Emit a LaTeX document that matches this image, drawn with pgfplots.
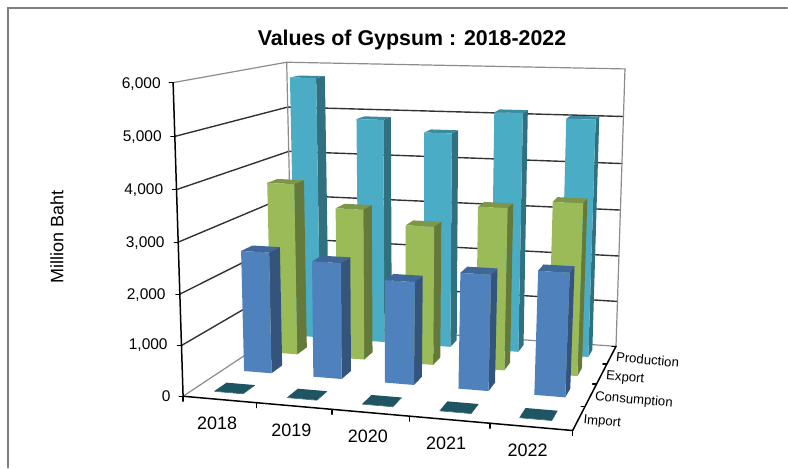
\documentclass[border=0pt]{standalone}
\usepackage{fontspec}
\setmainfont{Liberation Sans}
\usepackage{pgfplots}
\pgfplotsset{compat=1.18}
\definecolor{cyanF}{HTML}{4BACC6}
\definecolor{cyanS}{HTML}{31707F}
\definecolor{cyanT}{HTML}{3A8BA0}
\definecolor{greenF}{HTML}{9BBB59}
\definecolor{greenS}{HTML}{657A3A}
\definecolor{greenT}{HTML}{7D9647}
\definecolor{blueF}{HTML}{4F81BD}
\definecolor{blueS}{HTML}{34547B}
\definecolor{blueT}{HTML}{3F6797}
\definecolor{tealF}{HTML}{1F5562}
\definecolor{tealS}{HTML}{1A4753}
\definecolor{tealT}{HTML}{1F5562}
\definecolor{wallgray}{HTML}{8C8C8C}
\definecolor{framegray}{HTML}{7F7F7F}
\definecolor{gridc}{HTML}{333333}

% perspective: box corners in pixels, x = 0..5 (years), d = 0..4 (series), z = 0..6000
\newcommand{\proj}[3]{%
  \pgfmathsetmacro{\tu}{(#1)/5}\pgfmathsetmacro{\tu}{\tu-0.075*\tu*(1-\tu)}%
  \pgfmathsetmacro{\tv}{(#2)/4}\pgfmathsetmacro{\tv}{\tv+0.208*\tv*(1-\tv)}%
  \pgfmathsetmacro{\tw}{(#3)/6000}\pgfmathsetmacro{\tw}{\tw-0.035*\tw*(1-\tw)}%
  \pgfmathsetmacro{\bx}{(1-\tv)*((1-\tu)*183.3+\tu*573.3)+\tv*((1-\tu)*293+\tu*616.7)}%
  \pgfmathsetmacro{\by}{(1-\tv)*((1-\tu)*396.7+\tu*431)+\tv*((1-\tu)*324+\tu*346.7)}%
  \pgfmathsetmacro{\tx}{(1-\tv)*((1-\tu)*173.3+\tu*588)+\tv*((1-\tu)*287+\tu*625.7)}%
  \pgfmathsetmacro{\ty}{(1-\tv)*((1-\tu)*82.7+\tu*98)+\tv*((1-\tu)*62.3+\tu*69)}%
  \pgfmathsetmacro{\px}{(1-\tw)*\bx+\tw*\tx}%
  \pgfmathsetmacro{\py}{(1-\tw)*\by+\tw*\ty}%
  \xdef\pp{(\px,\py)}%
}
% filled quad from four (x,d,z) points
\newcommand{\quadf}[5]{%
  \proj#2\let\pa\pp \proj#3\let\pb\pp \proj#4\let\pc\pp \proj#5\let\pd\pp
  \edef\tmp{\noexpand\addplot[fill=#1,draw=none,forget plot] coordinates {\pa\pb\pc\pd} -- cycle;}\tmp
}
\newcommand{\seg}[3]{%
  \proj#2\let\pa\pp \proj#3\let\pb\pp
  \edef\tmp{\noexpand\addplot[#1,forget plot] coordinates {\pa\pb};}\tmp
}
% bar: year index, series index, value, colours
\newcommand{\barc}[4]{%
  \pgfmathsetmacro{\xa}{#1+0.3}\pgfmathsetmacro{\xb}{#1+0.7}%
  \pgfmathsetmacro{\da}{#2+0.3}\pgfmathsetmacro{\db}{#2+0.7}%
  \quadf{#4T}{{\xa}{\da}{#3}}{{\xb}{\da}{#3}}{{\xb}{\db}{#3}}{{\xa}{\db}{#3}}%
  \quadf{#4S}{{\xb}{\da}{0}}{{\xb}{\db}{0}}{{\xb}{\db}{#3}}{{\xb}{\da}{#3}}%
  \quadf{#4F}{{\xa}{\da}{0}}{{\xb}{\da}{0}}{{\xb}{\da}{#3}}{{\xa}{\da}{#3}}%
}
\begin{document}
\begin{tikzpicture}
\begin{axis}[
  width=788pt, height=468pt, scale only axis,
  xmin=0, xmax=788, ymin=0, ymax=468, y dir=reverse,
  axis lines=none, clip=false,
  line cap=round,
]
\path (axis cs:0,0) rectangle (axis cs:788,468);
% chart frame
\addplot[color=framegray,line width=1.8pt,forget plot] coordinates {(8,468)(8,8)(788,8)};

% walls
\foreach \z in {1000,2000,3000,4000,5000} {
  \seg{gridc,line width=1.4pt}{{0}{0}{\z}}{{0}{4}{\z}}
  \seg{gridc,line width=1.4pt}{{0}{4}{\z}}{{5}{4}{\z}}
}
\seg{wallgray,line width=1.2pt}{{0}{0}{6000}}{{0}{4}{6000}}
\seg{wallgray,line width=1.2pt}{{0}{4}{6000}}{{5}{4}{6000}}
\seg{wallgray,line width=1.2pt}{{0}{4}{0}}{{0}{4}{6000}}
\seg{wallgray,line width=1.2pt}{{5}{4}{0}}{{5}{4}{6000}}
\seg{wallgray,line width=1.2pt}{{0}{0}{0}}{{0}{4}{0}}
\seg{wallgray,line width=1.2pt}{{0}{4}{0}}{{5}{4}{0}}

% Production
\barc{0}{3}{5745}{cyan}
\barc{1}{3}{4890}{cyan}
\barc{2}{3}{4650}{cyan}
\barc{3}{3}{5125}{cyan}
\barc{4}{3}{5035}{cyan}
% Export
\barc{0}{2}{3655}{green}
\barc{1}{2}{3190}{green}
\barc{2}{2}{2910}{green}
\barc{3}{2}{3370}{green}
\barc{4}{2}{3540}{green}
% Consumption
\barc{0}{1}{2490}{blue}
\barc{1}{1}{2365}{blue}
\barc{2}{1}{2080}{blue}
\barc{3}{1}{2320}{blue}
\barc{4}{1}{2455}{blue}
% Import
\barc{0}{0}{10}{teal}
\barc{1}{0}{10}{teal}
\barc{2}{0}{10}{teal}
\barc{3}{0}{10}{teal}
\barc{4}{0}{10}{teal}

% axes and ticks
\seg{black,line width=1.5pt}{{0}{0}{0}}{{0}{0}{6000}}
\seg{black,line width=1.5pt}{{0}{0}{0}}{{5}{0}{0}}
\seg{black,line width=1.5pt}{{5}{0}{0}}{{5}{4}{0}}
\foreach \z/\lab/\lx/\ly in {0/0/171/397,1000/{1,000}/168/345,2000/{2,000}/166/295,3000/{3,000}/165/243,4000/{4,000}/163.5/190,5000/{5,000}/162/137,6000/{6,000}/161/84} {
  \proj{0}{0}{\z}
  \pgfmathsetmacro{\tka}{\px-4}
  \edef\tmp{\noexpand\addplot[black,line width=1.2pt,forget plot] coordinates {(\tka,\py)(\px,\py)};}\tmp
  \edef\tmp{\noexpand\node[anchor=east,font=\noexpand\fontsize{15.5}{15.5}\noexpand\selectfont,inner sep=0pt] at (axis cs:\lx,\ly) {\lab};}\tmp
}
\foreach \i in {0,1,2,3,4,5} {
  \proj{\i}{0}{0}
  \pgfmathsetmacro{\tka}{\py+5}
  \edef\tmp{\noexpand\addplot[black,line width=1.2pt,forget plot] coordinates {(\px,\py)(\px,\tka)};}\tmp
}
\foreach \i in {1,2,3,4} {
  \proj{5}{\i}{0}
  \pgfmathsetmacro{\tka}{\px-4}
  \edef\tmp{\noexpand\addplot[black,line width=1.2pt,forget plot] coordinates {(\tka,\py)(\px,\py)};}\tmp
}
% labels
\node[font=\fontsize{18}{18}\selectfont,inner sep=0pt] at (axis cs:217.3,424) {2018};
\node[font=\fontsize{18}{18}\selectfont,inner sep=0pt] at (axis cs:291.7,431) {2019};
\node[font=\fontsize{18}{18}\selectfont,inner sep=0pt] at (axis cs:368.3,437) {2020};
\node[font=\fontsize{18}{18}\selectfont,inner sep=0pt] at (axis cs:446.7,444) {2021};
\node[font=\fontsize{18}{18}\selectfont,inner sep=0pt] at (axis cs:528.3,451) {2022};
\node[font=\fontsize{13.2}{13.2}\selectfont,inner sep=0pt,anchor=west,rotate=-5] at (axis cs:616.7,357.5) {Production};
\node[font=\fontsize{13.2}{13.2}\selectfont,inner sep=0pt,anchor=west,rotate=-5] at (axis cs:606.7,377) {Export};
\node[font=\fontsize{13.2}{13.2}\selectfont,inner sep=0pt,anchor=west,rotate=-5] at (axis cs:595.7,397.5) {Consumption};
\node[font=\fontsize{13.2}{13.2}\selectfont,inner sep=0pt,anchor=west,rotate=-5] at (axis cs:584,421) {Import};
\node[font=\bfseries\fontsize{21.4}{21.4}\selectfont,inner sep=0pt] at (axis cs:412.5,40) {Values of Gypsum : 2018-2022};
\node[font=\fontsize{18}{18}\selectfont,inner sep=0pt,rotate=90] at (axis cs:57,237) {Million Baht};
\end{axis}
\end{tikzpicture}
\end{document}
